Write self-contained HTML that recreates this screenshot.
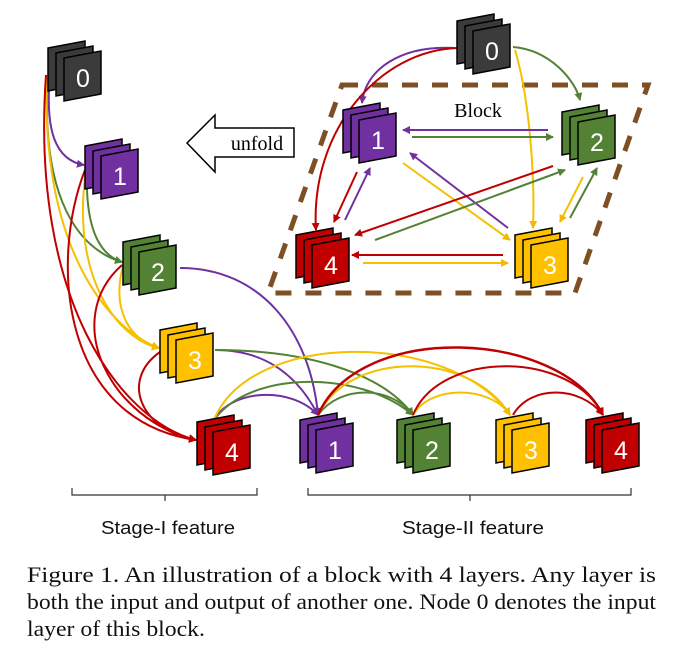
<!DOCTYPE html>
<html><head><meta charset="utf-8"><style>
html,body{margin:0;padding:0;background:#fff;}
svg{display:block;}
</style></head><body>
<svg width="686" height="645" viewBox="0 0 686 645" xmlns="http://www.w3.org/2000/svg">
<defs>
<marker id="mp" markerWidth="8" markerHeight="8" refX="7" refY="4" orient="auto" markerUnits="userSpaceOnUse"><path d="M0,0 L8,4 L0,8z" fill="#7030a0"/></marker>
<marker id="mg" markerWidth="8" markerHeight="8" refX="7" refY="4" orient="auto" markerUnits="userSpaceOnUse"><path d="M0,0 L8,4 L0,8z" fill="#548235"/></marker>
<marker id="my" markerWidth="8" markerHeight="8" refX="7" refY="4" orient="auto" markerUnits="userSpaceOnUse"><path d="M0,0 L8,4 L0,8z" fill="#f5b800"/></marker>
<marker id="mr" markerWidth="8" markerHeight="8" refX="7" refY="4" orient="auto" markerUnits="userSpaceOnUse"><path d="M0,0 L8,4 L0,8z" fill="#c00000"/></marker>
</defs>

<polygon points="342,85 648,85 575,293 268,293" fill="none" stroke="#7f4f24" stroke-width="5" stroke-dasharray="16,14"/>

<polygon points="187,143 215,115 215,128 294,128 294,157 215,157 215,172" fill="#fff" stroke="#000" stroke-width="1.5"/>
<text x="257" y="150" font-family="Liberation Serif, serif" font-size="20" text-anchor="middle">unfold</text>
<text x="478" y="117" font-family="Liberation Serif, serif" font-size="20" text-anchor="middle">Block</text>

<g fill="none" stroke-width="2">
<path d="M50,75 C45,130 55,160 84,165" stroke="#7030a0" marker-end="url(#mp)"/>
<path d="M48,75 C40,200 80,250 122,262" stroke="#548235" marker-end="url(#mg)"/>
<path d="M47,75 C40,250 110,330 159,348" stroke="#f5c000" marker-end="url(#my)"/>
<path d="M46,75 C30,300 120,420 196,440" stroke="#c00000" marker-end="url(#mr)"/>
<path d="M87,170 C85,230 100,255 122,262" stroke="#548235" marker-end="url(#mg)"/>
<path d="M86,170 C70,280 120,340 159,348" stroke="#f5c000" marker-end="url(#my)"/>
<path d="M85,170 C50,260 60,420 196,440" stroke="#c00000" marker-end="url(#mr)"/>
<path d="M124,262 C110,310 130,340 159,348" stroke="#f5c000" marker-end="url(#my)"/>
<path d="M122,265 C60,320 110,420 196,440" stroke="#c00000" marker-end="url(#mr)"/>
<path d="M160,352 C120,380 140,430 196,440" stroke="#c00000" marker-end="url(#mr)"/>
<path d="M180,268 C260,268 310,330 318,415" stroke="#7030a0" marker-end="url(#mp)"/>
<path d="M215,350 C270,350 300,380 318,415" stroke="#7030a0" marker-end="url(#mp)"/>
<path d="M215,350 C300,350 380,370 413,415" stroke="#548235" marker-end="url(#mg)"/>
<path d="M214,420 C230,390 290,385 318,415" stroke="#7030a0" marker-end="url(#mp)"/>
<path d="M214,420 C250,370 360,370 413,415" stroke="#548235" marker-end="url(#mg)"/>
<path d="M214,420 C250,330 450,330 510,415" stroke="#f5c000" marker-end="url(#my)"/>
<path d="M318,415 C340,385 390,385 413,415" stroke="#548235" marker-end="url(#mg)"/>
<path d="M318,415 C350,350 470,350 510,415" stroke="#f5c000" marker-end="url(#my)"/>
<path d="M318,415 C360,320 560,330 603,415" stroke="#c00000" stroke-width="2.5" marker-end="url(#mr)"/>
<path d="M413,415 C430,385 490,385 510,415" stroke="#f5c000" marker-end="url(#my)"/>
<path d="M413,415 C440,350 570,350 603,415" stroke="#c00000" marker-end="url(#mr)"/>
<path d="M513,415 C530,385 580,385 603,415" stroke="#c00000" marker-end="url(#mr)"/>
<path d="M455,48 C400,45 365,70 362,103" stroke="#7030a0" marker-end="url(#mp)"/>
<path d="M458,48 C380,50 310,130 316,230" stroke="#c00000" marker-end="url(#mr)"/>
<path d="M513,47 C550,50 575,80 580,100" stroke="#548235" marker-end="url(#mg)"/>
<path d="M515,50 C530,100 535,180 533,228" stroke="#f5c000" marker-end="url(#my)"/>
<path d="M548,130 L403,130" stroke="#7030a0" marker-end="url(#mp)"/>
<path d="M412,137 L553,137" stroke="#548235" marker-end="url(#mg)"/>
<path d="M403,163 L510,240" stroke="#f5c000" marker-end="url(#my)"/>
<path d="M508,228 L410,153" stroke="#7030a0" marker-end="url(#mp)"/>
<path d="M553,166 L355,235" stroke="#c00000" marker-end="url(#mr)"/>
<path d="M375,240 L565,170" stroke="#548235" marker-end="url(#mg)"/>
<path d="M357,172 L334,222" stroke="#c00000" marker-end="url(#mr)"/>
<path d="M345,220 L370,168" stroke="#7030a0" marker-end="url(#mp)"/>
<path d="M583,177 L560,222" stroke="#f5c000" marker-end="url(#my)"/>
<path d="M570,218 L597,168" stroke="#548235" marker-end="url(#mg)"/>
<path d="M503,255 L352,255" stroke="#c00000" marker-end="url(#mr)"/>
<path d="M363,263 L508,263" stroke="#f5c000" marker-end="url(#my)"/>
</g>

<g stroke="#000" stroke-width="1.5" font-family="Liberation Sans, sans-serif" font-size="25" text-anchor="middle">
<g transform="translate(48,48)" fill="#3b3b3b"><polygon points="0,0 37,-7 37,36 0,43"/><polygon points="8,5 45,-2 45,41 8,48"/><polygon points="16,10 53,3 53,46 16,53"/><text x="35" y="39" fill="#fff" stroke="none">0</text></g>
<g transform="translate(85,146)" fill="#7030a0"><polygon points="0,0 37,-7 37,36 0,43"/><polygon points="8,5 45,-2 45,41 8,48"/><polygon points="16,10 53,3 53,46 16,53"/><text x="35" y="39" fill="#fff" stroke="none">1</text></g>
<g transform="translate(123,242)" fill="#548235"><polygon points="0,0 37,-7 37,36 0,43"/><polygon points="8,5 45,-2 45,41 8,48"/><polygon points="16,10 53,3 53,46 16,53"/><text x="35" y="39" fill="#fff" stroke="none">2</text></g>
<g transform="translate(160,330)" fill="#ffc000"><polygon points="0,0 37,-7 37,36 0,43"/><polygon points="8,5 45,-2 45,41 8,48"/><polygon points="16,10 53,3 53,46 16,53"/><text x="35" y="39" fill="#fff" stroke="none">3</text></g>
<g transform="translate(197,422)" fill="#c00000"><polygon points="0,0 37,-7 37,36 0,43"/><polygon points="8,5 45,-2 45,41 8,48"/><polygon points="16,10 53,3 53,46 16,53"/><text x="35" y="39" fill="#fff" stroke="none">4</text></g>
<g transform="translate(300,420)" fill="#7030a0"><polygon points="0,0 37,-7 37,36 0,43"/><polygon points="8,5 45,-2 45,41 8,48"/><polygon points="16,10 53,3 53,46 16,53"/><text x="35" y="39" fill="#fff" stroke="none">1</text></g>
<g transform="translate(397,420)" fill="#548235"><polygon points="0,0 37,-7 37,36 0,43"/><polygon points="8,5 45,-2 45,41 8,48"/><polygon points="16,10 53,3 53,46 16,53"/><text x="35" y="39" fill="#fff" stroke="none">2</text></g>
<g transform="translate(496,420)" fill="#ffc000"><polygon points="0,0 37,-7 37,36 0,43"/><polygon points="8,5 45,-2 45,41 8,48"/><polygon points="16,10 53,3 53,46 16,53"/><text x="35" y="39" fill="#fff" stroke="none">3</text></g>
<g transform="translate(586,420)" fill="#c00000"><polygon points="0,0 37,-7 37,36 0,43"/><polygon points="8,5 45,-2 45,41 8,48"/><polygon points="16,10 53,3 53,46 16,53"/><text x="35" y="39" fill="#fff" stroke="none">4</text></g>
<g transform="translate(457,21)" fill="#3b3b3b"><polygon points="0,0 37,-7 37,36 0,43"/><polygon points="8,5 45,-2 45,41 8,48"/><polygon points="16,10 53,3 53,46 16,53"/><text x="35" y="39" fill="#fff" stroke="none">0</text></g>
<g transform="translate(343,110)" fill="#7030a0"><polygon points="0,0 37,-7 37,36 0,43"/><polygon points="8,5 45,-2 45,41 8,48"/><polygon points="16,10 53,3 53,46 16,53"/><text x="35" y="39" fill="#fff" stroke="none">1</text></g>
<g transform="translate(562,112)" fill="#548235"><polygon points="0,0 37,-7 37,36 0,43"/><polygon points="8,5 45,-2 45,41 8,48"/><polygon points="16,10 53,3 53,46 16,53"/><text x="35" y="39" fill="#fff" stroke="none">2</text></g>
<g transform="translate(515,235)" fill="#ffc000"><polygon points="0,0 37,-7 37,36 0,43"/><polygon points="8,5 45,-2 45,41 8,48"/><polygon points="16,10 53,3 53,46 16,53"/><text x="35" y="39" fill="#fff" stroke="none">3</text></g>
<g transform="translate(296,235)" fill="#c00000"><polygon points="0,0 37,-7 37,36 0,43"/><polygon points="8,5 45,-2 45,41 8,48"/><polygon points="16,10 53,3 53,46 16,53"/><text x="35" y="39" fill="#fff" stroke="none">4</text></g>
</g>

<g stroke="#333" stroke-width="1.2" fill="none">
<path d="M72,488 L72,495 L257,495 L257,488 M165,495 L165,501"/>
<path d="M308,488 L308,495 L631,495 L631,488 M470,495 L470,501"/>
</g>
<g font-family="Liberation Sans, sans-serif" font-size="18" text-anchor="middle" fill="#111">
<text x="168" y="534" textLength="134" lengthAdjust="spacingAndGlyphs">Stage-I feature</text>
<text x="473" y="534" textLength="142" lengthAdjust="spacingAndGlyphs">Stage-II feature</text>
</g>

<g font-family="Liberation Serif, serif" font-size="22" fill="#111">
<text x="27" y="582" textLength="629" lengthAdjust="spacingAndGlyphs">Figure 1. An illustration of a block with 4 layers.  Any layer is</text>
<text x="27" y="609" textLength="629" lengthAdjust="spacingAndGlyphs">both the input and output of another one. Node 0 denotes the input</text>
<text x="27" y="636" textLength="178" lengthAdjust="spacingAndGlyphs">layer of this block.</text>
</g>
</svg>
</body></html>
